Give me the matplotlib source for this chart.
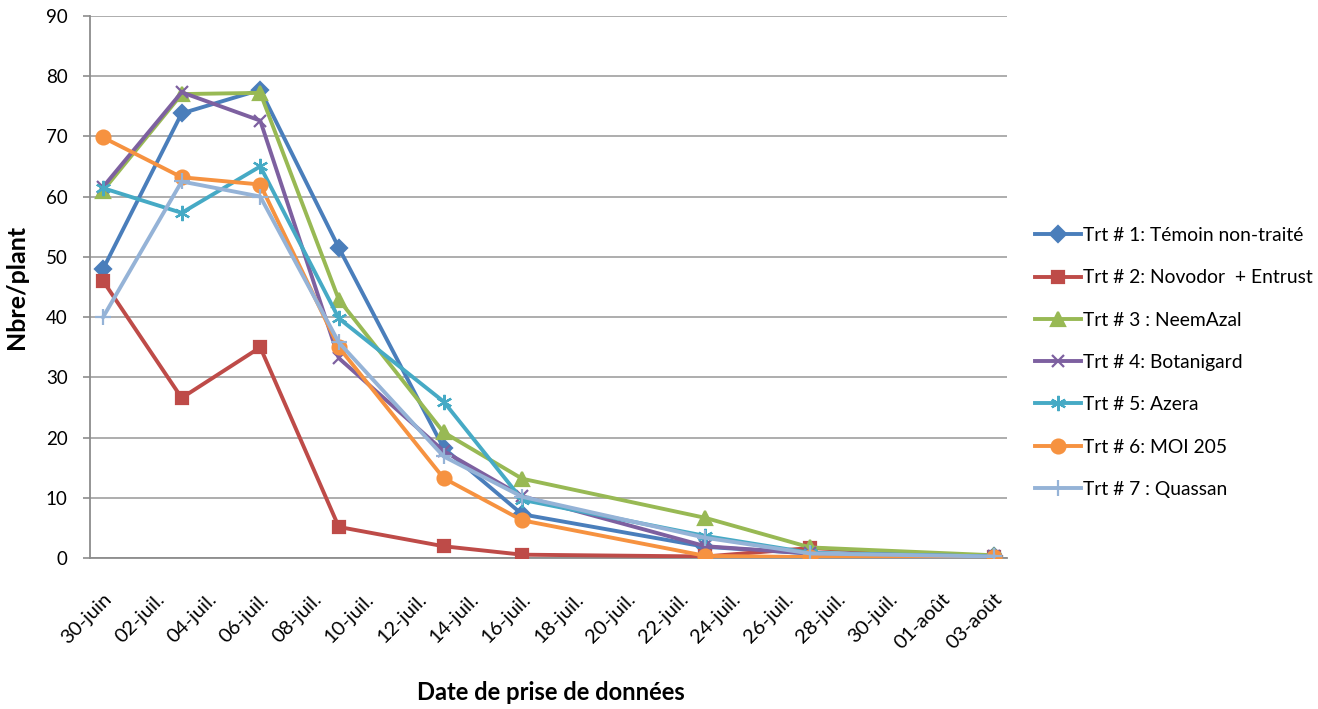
import matplotlib
matplotlib.use("Agg")
import matplotlib.pyplot as plt
import numpy as np
import pandas as pd

# ---- data ----
dates = ["2013-06-30", "2013-07-03", "2013-07-06", "2013-07-09", "2013-07-13",
         "2013-07-16", "2013-07-23", "2013-07-27", "2013-08-03"]
series_names = ["Trt # 1: Témoin non-traité", "Trt # 2: Novodor  + Entrust",
                "Trt # 3 : NeemAzal", "Trt # 4: Botanigard", "Trt # 5: Azera",
                "Trt # 6: MOI 205", "Trt # 7 : Quassan"]
trt1 = [48.0, 73.8, 77.7, 51.5, 18.3, 7.3, 1.9, 0.8, 0.3]
trt2 = [46.0, 26.6, 35.0, 5.2, 2.0, 0.6, 0.3, 1.7, 0.2]
trt3 = [61.0, 77.0, 77.2, 42.9, 20.9, 13.2, 6.7, 1.8, 0.5]
trt4 = [61.6, 77.3, 72.6, 33.2, 17.8, 10.3, 2.0, 0.8, 0.3]
trt5 = [61.4, 57.3, 65.0, 39.8, 26.0, 9.7, 3.7, 0.9, 0.3]
trt6 = [69.8, 63.2, 62.0, 35.0, 13.3, 6.3, 0.4, 0.2, 0.2]
trt7 = [40.0, 62.5, 60.0, 35.8, 16.9, 10.2, 3.4, 0.8, 0.3]
tick_dates = pd.date_range("2013-06-30", "2013-08-03", freq="2D")
tick_labels = ["30-juin", "02-juil.", "04-juil.", "06-juil.", "08-juil.", "10-juil.",
               "12-juil.", "14-juil.", "16-juil.", "18-juil.", "20-juil.", "22-juil.",
               "24-juil.", "26-juil.", "28-juil.", "30-juil.", "01-août", "03-août"]
y_ticks = [0, 10, 20, 30, 40, 50, 60, 70, 80, 90]

# ---- style ----
colors = ["#4A7EBB", "#BE4B48", "#98B954", "#7D60A0", "#46AAC5", "#F69240", "#95B3D7"]
markers = ["D", "s", "^", "x", (6, 2, 0), "o", "+"]
msizes = [8.5, 9, 9.5, 9, 11, 10, 12]

plt.rcParams["font.family"] = ["Lato", "DejaVu Sans"]

fig = plt.figure(figsize=(13.18, 7.09), dpi=100)
ax = fig.add_axes([90 / 1318, 1 - 558.3 / 709, (1006.7 - 90) / 1318, (558.3 - 15.7) / 709])

x = pd.to_datetime(dates)
all_series = [trt1, trt2, trt3, trt4, trt5, trt6, trt7]
for i, (name, vals) in enumerate(zip(series_names, all_series)):
    ax.plot(x, vals, color=colors[i], lw=2.8, marker=markers[i], ms=msizes[i],
            mec=colors[i], mfc=colors[i], mew=1.6, label=name, zorder=3 + i,
            solid_joinstyle="round")

x0 = pd.Timestamp("2013-06-30") - pd.Timedelta(hours=12)
x1 = pd.Timestamp("2013-08-03") + pd.Timedelta(hours=12)
ax.set_xlim(x0, x1)
ax.set_ylim(0, 90)
ax.set_yticks(y_ticks)
ax.set_xticks(tick_dates)
ax.set_xticklabels(tick_labels, rotation=45, ha="right", rotation_mode="anchor")

ax.grid(axis="y", color="#A0A0A0", lw=1.2)
ax.set_axisbelow(True)
for s in ["top", "right"]:
    ax.spines[s].set_visible(False)
for s in ["left", "bottom"]:
    ax.spines[s].set_color("#8C8C8C")
    ax.spines[s].set_linewidth(1.3)
ax.tick_params(axis="y", length=5, color="#8C8C8C", width=1.2, labelsize=13.5, pad=11)
ax.tick_params(axis="x", length=0, labelsize=14.5, pad=23)

ylab = fig.text(17 / 1318, 1 - 287 / 709, "Nbre/plant", rotation=90, ha="center",
                va="center", fontsize=14, fontweight="bold")
xlab = fig.text(551 / 1318, 1 - 692 / 709, "Date de prise de données", ha="center",
                va="center", fontsize=14, fontweight="bold")

# fit axis-title sizes to the reference's measured lengths (px)
fig.canvas.draw()
r = fig.canvas.get_renderer()
wx = xlab.get_window_extent(r).width
xlab.set_fontsize(14 * 270 / wx)
hy = ylab.get_window_extent(r).height
ylab.set_fontsize(min(14 * 128 / hy, 18))

leg = fig.legend(loc="center left", bbox_to_anchor=(1035 / 1318, 1 - 362.5 / 709),
                 frameon=False, fontsize=14.0, handlelength=2.35, handletextpad=0.12,
                 labelspacing=1.3, borderpad=0, borderaxespad=0)

# keep the legend inside the figure: shrink its text if it overflows the right edge
fig.canvas.draw()
bb = leg.get_window_extent(fig.canvas.get_renderer())
if bb.x1 > 1314:
    fs = 14.0 * (1314 - bb.x0 - 45) / (bb.width - 45)
    for t in leg.get_texts():
        t.set_fontsize(fs)

fig.savefig("out.png", dpi=100)
